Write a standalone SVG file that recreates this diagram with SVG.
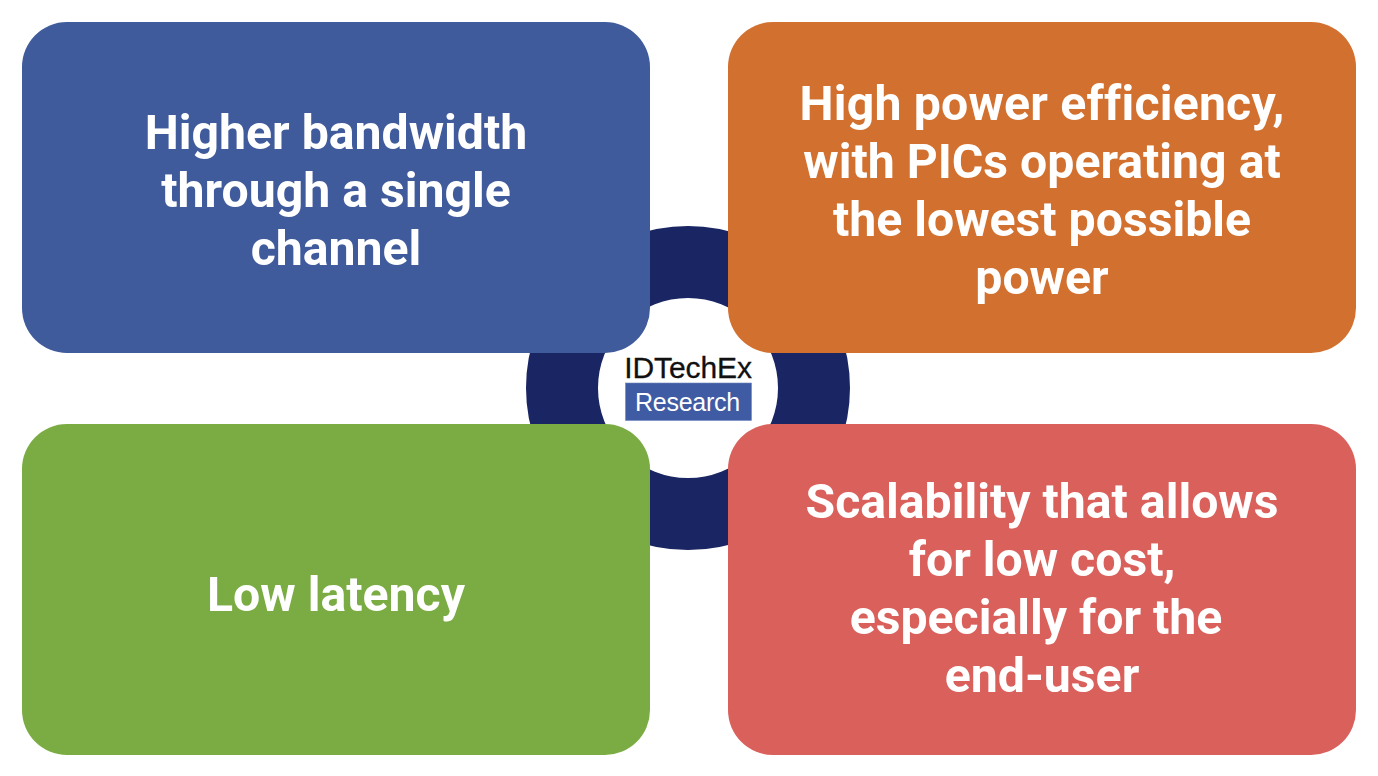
<svg xmlns="http://www.w3.org/2000/svg" width="1378" height="776" viewBox="0 0 1378 776">
<style>
.t{font-family:Roboto,"Liberation Sans",sans-serif;font-weight:700;font-size:48.2px;fill:#fff;text-anchor:middle;font-variant-ligatures:none}
.l{font-family:"Liberation Sans",Arial,sans-serif;text-anchor:middle}
</style>
<rect width="1378" height="776" fill="#fff"/>
<g id="ring"><circle cx="688" cy="388" r="126" fill="none" stroke="#1a2663" stroke-width="72"/></g>
<g id="logo">
<text class="l" x="688" y="378" font-size="30" fill="#111" letter-spacing="-0.1" stroke="#111" stroke-width="0.3">IDTechEx</text>
<rect x="625.5" y="383" width="126" height="37.5" fill="#3f5ba3" stroke="#6f88bd" stroke-width="0.6"/>
<text class="l" x="687.5" y="411" font-size="25" fill="#fff" letter-spacing="-0.25">Research</text>
</g>
<g id="n1"><rect x="22" y="22" width="628" height="331" rx="45" fill="#405b9b"/>
<text class="t" x="336" y="149">Higher bandwidth</text><text class="t" x="336" y="207">through a single</text><text class="t" x="336" y="265">channel</text></g>
<g id="n2"><rect x="728" y="22" width="628" height="331" rx="45" fill="#d2712f"/>
<text class="t" x="1042" y="120" letter-spacing="0.2">High power efficiency,</text><text class="t" x="1042" y="178">with PICs operating at</text><text class="t" x="1042" y="236">the lowest possible</text><text class="t" x="1042" y="294">power</text></g>
<g id="n3"><rect x="22" y="424" width="628" height="331" rx="45" fill="#7bac43"/>
<text class="t" x="336" y="611">Low latency</text></g>
<g id="n4"><rect x="728" y="424" width="628" height="331" rx="45" fill="#d9605b"/>
<text class="t" x="1042" y="518">Scalability that allows</text><text class="t" x="1042" y="576">for low cost,</text><text class="t" x="1036" y="634">especially for the</text><text class="t" x="1042" y="692">end-user</text></g>
</svg>
